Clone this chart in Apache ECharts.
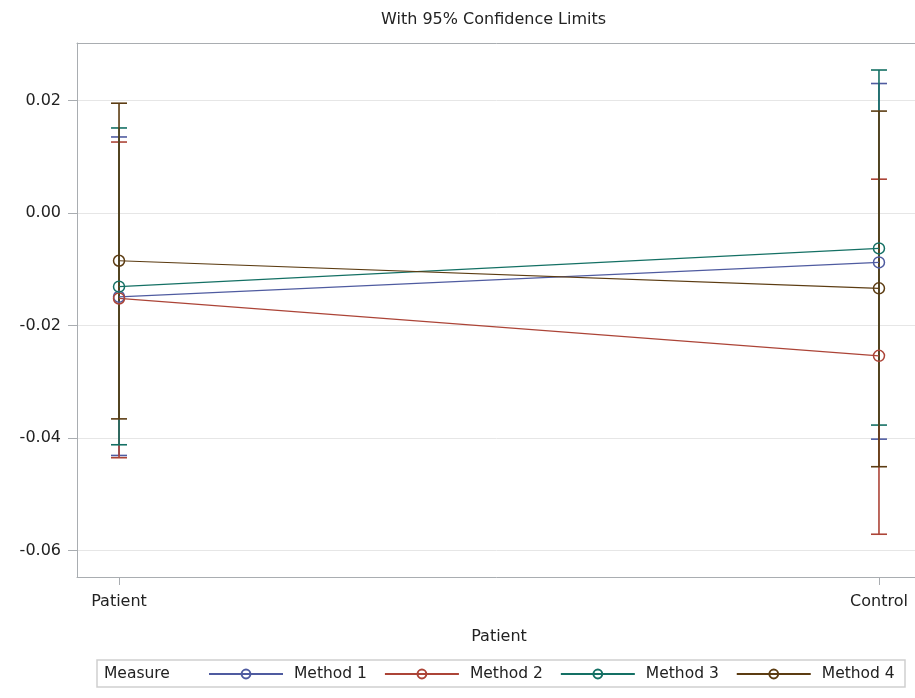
<!DOCTYPE html>
<html>
<head>
<meta charset="utf-8">
<script src="https://cdn.jsdelivr.net/npm/echarts@6/dist/echarts.min.js"></script>
<style>
  html, body { margin: 0; padding: 0; background: #fff; }
  #chart { width: 915px; height: 698px; }
</style>
</head>
<body>
<div id="chart"></div>
<script>
// Groups on the horizontal axis
const categories = ['Patient', 'Control'];
const methodNames = ['Method 1', 'Method 2', 'Method 3', 'Method 4'];

// Means and 95% confidence limits per method, one value per group
const method1Mean  = [-0.0149, -0.0088];
const method1Lower = [-0.0431, -0.0402];
const method1Upper = [ 0.0135,  0.0230];

const method2Mean  = [-0.0152, -0.0254];
const method2Lower = [-0.0435, -0.0571];
const method2Upper = [ 0.0126,  0.0060];

const method3Mean  = [-0.0131, -0.0063];
const method3Lower = [-0.0412, -0.0377];
const method3Upper = [ 0.0151,  0.0254];

const method4Mean  = [-0.0085, -0.0134];
const method4Lower = [-0.0366, -0.0451];
const method4Upper = [ 0.0195,  0.0181];

// Tick labels on the vertical axis
const yTicks = [-0.06, -0.04, -0.02, 0.00, 0.02];

const colors = ['#4f5ba0', '#ac4437', '#147064', '#5c3c12'];
const FONT = 'DejaVu Sans';
const AXIS_GREY = '#a9adb1';

const means  = [method1Mean, method2Mean, method3Mean, method4Mean];
const lowers = [method1Lower, method2Lower, method3Lower, method4Lower];
const uppers = [method1Upper, method2Upper, method3Upper, method4Upper];

const chart = echarts.init(document.getElementById('chart'), null, { renderer: 'canvas' });

// Error bar: vertical whisker with caps at both limits
function renderErrorBar(params, api) {
  const x = api.value(0);
  const lo = api.coord([x, api.value(1)]);
  const hi = api.coord([x, api.value(2)]);
  const half = 8;
  const style = { stroke: api.visual('color'), lineWidth: 1.6 };
  return {
    type: 'group',
    children: [
      { type: 'line', shape: { x1: lo[0], y1: lo[1], x2: hi[0], y2: hi[1] }, style },
      { type: 'line', shape: { x1: hi[0] - half, y1: hi[1], x2: hi[0] + half, y2: hi[1] }, style },
      { type: 'line', shape: { x1: lo[0] - half, y1: lo[1], x2: lo[0] + half, y2: lo[1] }, style }
    ]
  };
}

const errorSeries = methodNames.map((name, i) => ({
  type: 'custom',
  name: name + ' CL',
  renderItem: renderErrorBar,
  itemStyle: { color: colors[i] },
  encode: { x: 0, y: [1, 2] },
  data: categories.map((c, k) => [k, lowers[i][k], uppers[i][k]]),
  z: 2,
  silent: true
}));

// Mean lines with hollow (see-through) circle markers
const lineSeries = methodNames.map((name, i) => ({
  type: 'line',
  name: name,
  data: categories.map((c, k) => [k, means[i][k]]),
  symbol: 'circle',
  symbolSize: 11,
  showAllSymbol: true,
  lineStyle: { color: colors[i], width: 1.2 },
  itemStyle: { color: 'rgba(255,255,255,0)', borderColor: colors[i], borderWidth: 1.5 },
  z: 3
}));

const option = {
  animation: false,
  backgroundColor: '#fff',
  textStyle: { fontFamily: FONT },
  grid: {
    left: 77, top: 43, width: 844, height: 534,
    outerBoundsMode: 'none',
    show: false
  },
  xAxis: [{
    type: 'value',
    min: -0.0553, max: 1.0553,
    name: 'Patient',
    nameLocation: 'middle',
    nameGap: 52,
    nameTextStyle: { fontFamily: FONT, fontSize: 16, color: '#222' },
    axisLine: { show: true, onZero: false, lineStyle: { color: AXIS_GREY } },
    axisTick: { show: true, length: 8, customValues: [0, 1], lineStyle: { color: AXIS_GREY } },
    axisLabel: {
      customValues: [0, 1],
      margin: 17,
      fontFamily: FONT, fontSize: 16, color: '#222',
      formatter: v => categories[Math.round(v)]
    },
    splitLine: { show: false }
  }, {
    // plain frame line along the top of the plot area
    type: 'value',
    position: 'top',
    min: -0.0553, max: 1.0553,
    axisLine: { show: true, onZero: false, lineStyle: { color: AXIS_GREY } },
    axisTick: { show: false },
    axisLabel: { show: false },
    splitLine: { show: false }
  }],
  yAxis: {
    type: 'value',
    min: -0.0647, max: 0.0302,
    axisLine: { show: true, onZero: false, lineStyle: { color: AXIS_GREY } },
    axisTick: { show: true, length: 9, customValues: yTicks, lineStyle: { color: AXIS_GREY } },
    axisLabel: {
      customValues: yTicks,
      margin: 16,
      fontFamily: FONT, fontSize: 16, color: '#222',
      formatter: v => v.toFixed(2)
    },
    splitLine: { show: true, lineStyle: { color: '#e6e6e6', width: 1 } }
  },
  legend: {
    data: methodNames,
    left: 208, top: 666,
    padding: 0,
    itemWidth: 74, itemHeight: 11,
    itemGap: 17,
    textStyle: { fontFamily: FONT, fontSize: 15.5, color: '#222', padding: [0, 0, 0, 6] },
    selectedMode: false
  },
  graphic: [
    {
      type: 'text', left: 381, top: 12,
      style: { text: 'With 95% Confidence Limits', fontFamily: FONT, fontSize: 16, fill: '#222' }
    },
    {
      type: 'rect', shape: { x: 97, y: 660, width: 808, height: 27 },
      style: { fill: 'none', stroke: '#cfcfcf', lineWidth: 1.5 }, z: 0
    },
    {
      type: 'text', x: 104, y: 674,
      style: { text: 'Measure', fontFamily: FONT, fontSize: 15.5, fill: '#222', textVerticalAlign: 'middle' }
    }
  ],
  series: errorSeries.concat(lineSeries)
};

chart.setOption(option);
</script>
</body>
</html>
